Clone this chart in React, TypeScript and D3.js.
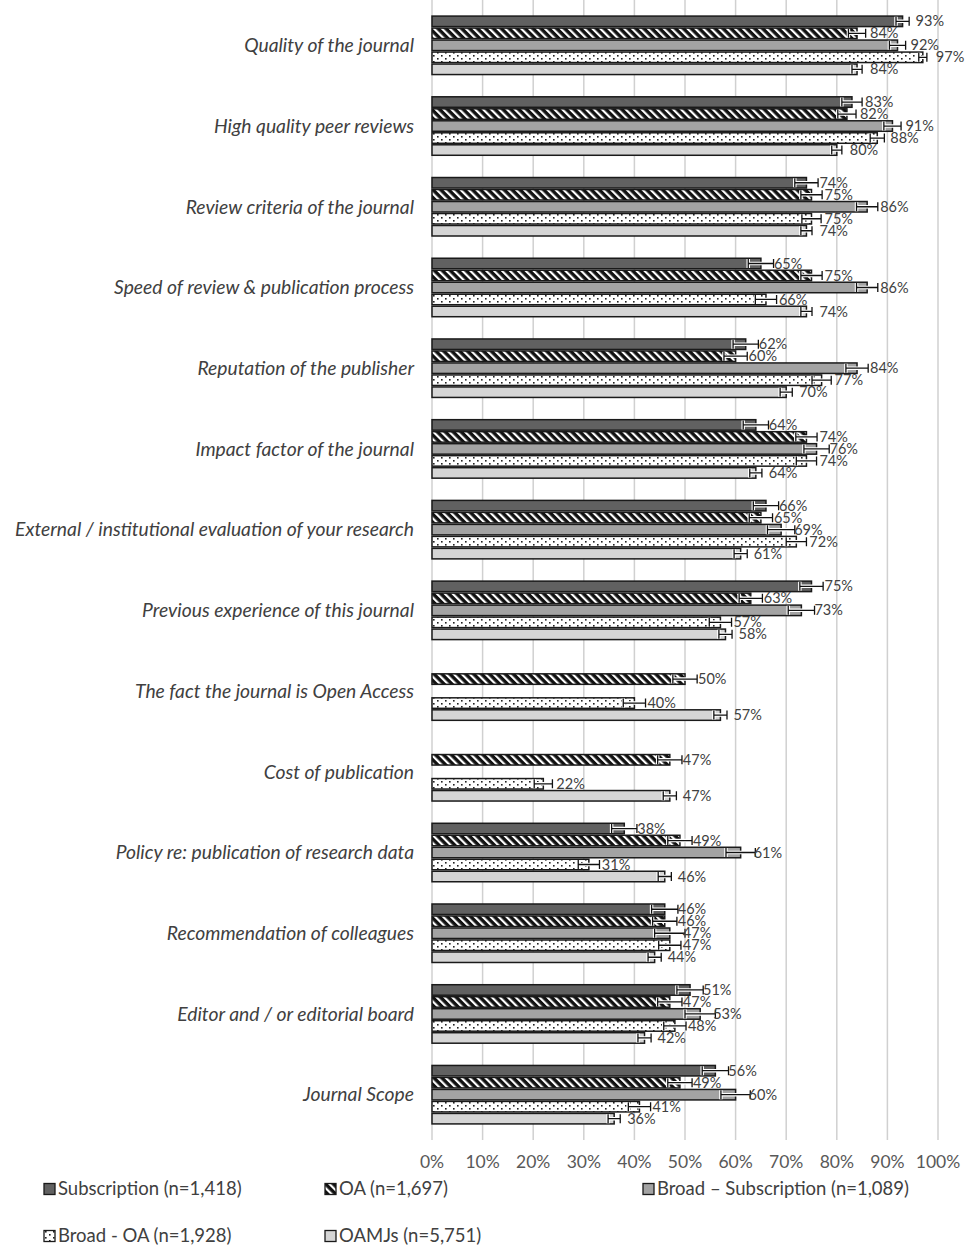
import React, { useEffect, useRef } from 'react';
import * as d3 from 'd3';

const categories = [
  'Quality of the journal',
  'High quality peer reviews',
  'Review criteria of the journal',
  'Speed of review & publication process',
  'Reputation of the publisher',
  'Impact factor of the journal',
  'External / institutional evaluation of your research',
  'Previous experience of this journal',
  'The fact the journal is Open Access',
  'Cost of publication',
  'Policy re: publication of research data',
  'Recommendation of colleagues',
  'Editor and / or editorial board',
  'Journal Scope',
];

const seriesNames = [
  'Subscription (n=1,418)',
  'OA (n=1,697)',
  'Broad – Subscription (n=1,089)',
  'Broad - OA (n=1,928)',
  'OAMJs (n=5,751)',
];

// percentages, null = not asked
const subscription = [93, 83, 74, 65, 62, 64, 66, 75, null, null, 38, 46, 51, 56];
const oa = [84, 82, 75, 75, 60, 74, 65, 63, 50, 47, 49, 46, 47, 49];
const broadSub = [92, 91, 86, 86, 84, 76, 69, 73, null, null, 61, 47, 53, 60];
const broadOA = [97, 88, 75, 66, 77, 74, 72, 57, 40, 22, 31, 47, 48, 41];
const oamjs = [84, 80, 74, 74, 70, 64, 61, 58, 57, 47, 46, 44, 42, 36];

// half-widths of the error bars, in % points
const subscriptionErr = [1.3, 2.0, 2.3, 2.5, 2.5, 2.5, 2.5, 2.3, null, null, 2.5, 2.6, 2.6, 2.6];
const oaErr = [1.7, 1.8, 2.1, 2.1, 2.3, 2.1, 2.3, 2.3, 2.4, 2.4, 2.4, 2.4, 2.4, 2.4];
const broadSubErr = [1.6, 1.7, 2.1, 2.1, 2.2, 2.5, 2.7, 2.6, null, null, 2.9, 3.0, 3.0, 2.9];
const broadOAErr = [0.8, 1.4, 1.9, 2.1, 1.9, 2.0, 2.0, 2.2, 2.2, 1.8, 2.1, 2.2, 2.2, 2.2];
const oamjsErr = [1.0, 1.0, 1.1, 1.1, 1.2, 1.2, 1.3, 1.3, 1.3, 1.3, 1.3, 1.3, 1.3, 1.2];

const xTicks = [0, 10, 20, 30, 40, 50, 60, 70, 80, 90, 100];

const series = [subscription, oa, broadSub, broadOA, oamjs];
const errors = [subscriptionErr, oaErr, broadSubErr, broadOAErr, oamjsErr];
const fills = ['#616161', 'url(#hatch)', '#a3a3a3', 'url(#dots)', '#d5d5d5'];

const FONT = 'Lato, "Open Sans", sans-serif';

export default function App() {
  const ref = useRef<SVGSVGElement | null>(null);

  useEffect(() => {
    document.body.style.margin = '0';
    const width = 965, height = 1247;
    const margin = { top: 5, left: 432, right: 27, bottom: 112 };
    const svg = d3.select(ref.current);
    svg.selectAll('*').remove();
    svg.attr('width', width).attr('height', height).style('background', '#fff');

    const defs = svg.append('defs');
    const hatch = defs.append('pattern').attr('id', 'hatch')
      .attr('patternUnits', 'userSpaceOnUse').attr('width', 5.6).attr('height', 5.6)
      .attr('patternTransform', 'rotate(-45)');
    hatch.append('rect').attr('width', 5.6).attr('height', 5.6).attr('fill', '#111');
    hatch.append('rect').attr('width', 2.2).attr('height', 5.6).attr('fill', '#fff');

    const dots = defs.append('pattern').attr('id', 'dots')
      .attr('patternUnits', 'userSpaceOnUse').attr('width', 8).attr('height', 6);
    dots.append('rect').attr('width', 8).attr('height', 6).attr('fill', '#fff');
    dots.append('rect').attr('x', 1).attr('y', 1).attr('width', 1.6).attr('height', 1.6).attr('fill', '#222');
    dots.append('rect').attr('x', 5).attr('y', 4).attr('width', 1.6).attr('height', 1.6).attr('fill', '#222');

    const x = d3.scaleLinear().domain([0, 100]).range([margin.left, width - margin.right]);
    const y = d3.scaleBand<string>().domain(categories)
      .range([margin.top, height - margin.bottom])
      .paddingInner(0.257).paddingOuter(0.128);
    const ySub = d3.scaleBand<number>().domain(d3.range(series.length))
      .range([0, y.bandwidth()]);

    // gridlines
    svg.append('g').selectAll('line').data(xTicks).join('line')
      .attr('x1', d => x(d)).attr('x2', d => x(d))
      .attr('y1', 0).attr('y2', height - margin.bottom + 5)
      .attr('stroke', '#d0d0d0').attr('stroke-width', 1.5);

    // x tick labels
    svg.append('g').selectAll('text').data(xTicks).join('text')
      .attr('x', d => x(d)).attr('y', 1168)
      .attr('text-anchor', 'middle')
      .attr('font-family', FONT).attr('font-size', 17.5).attr('fill', '#595959')
      .text(d => `${d}%`);

    // category labels
    svg.append('g').selectAll('text').data(categories).join('text')
      .attr('x', 414).attr('y', d => (y(d) ?? 0) + y.bandwidth() / 2)
      .attr('dy', '0.35em').attr('text-anchor', 'end')
      .attr('font-family', FONT).attr('font-style', 'italic')
      .attr('font-size', 19.3).attr('fill', '#404040')
      .text(d => d);

    type Cell = { cat: string; s: number; v: number; e: number };
    const cells: Cell[] = [];
    categories.forEach((cat, i) => {
      series.forEach((vals, s) => {
        const v = vals[i];
        if (v != null) cells.push({ cat, s, v, e: errors[s][i] ?? 0 });
      });
    });

    const by = (d: Cell) => (y(d.cat) ?? 0) + (ySub(d.s) ?? 0);
    const bh = ySub.bandwidth();

    svg.append('g').selectAll('rect').data(cells).join('rect')
      .attr('x', x(0)).attr('y', d => by(d) + 0.75)
      .attr('width', d => x(d.v) - x(0)).attr('height', bh - 1.5)
      .attr('fill', d => fills[d.s])
      .attr('stroke', '#1a1a1a').attr('stroke-width', 1.5);

    // error bars
    const eg = svg.append('g').selectAll('g').data(cells).join('g');
    const errPath = (d: Cell) => {
      const cy = by(d) + bh / 2;
      const x0 = x(d.v - d.e), x1 = x(d.v + d.e);
      return `M${x0},${cy - 4.5}V${cy + 4.5}M${x0},${cy}H${x1}M${x1},${cy - 4.5}V${cy + 4.5}`;
    };
    eg.append('path').attr('d', errPath).attr('fill', 'none')
      .attr('stroke', '#fff').attr('stroke-width', 3.5);
    eg.append('path').attr('d', errPath).attr('fill', 'none')
      .attr('stroke', '#111').attr('stroke-width', 1.3);

    // value labels
    svg.append('g').selectAll('text').data(cells).join('text')
      .attr('x', d => x(d.v) + 13).attr('y', d => by(d) + bh / 2)
      .attr('dy', '0.35em')
      .attr('font-family', FONT).attr('font-size', 14.5).attr('fill', '#404040')
      .text(d => `${d.v}%`);

    // legend
    const legendPos = [
      { x: 44, y: 1189 }, { x: 325, y: 1189 }, { x: 643, y: 1189 },
      { x: 44, y: 1236 }, { x: 325, y: 1236 },
    ];
    const lg = svg.append('g').selectAll('g').data(seriesNames).join('g')
      .attr('transform', (_, i) => `translate(${legendPos[i].x},${legendPos[i].y})`);
    lg.append('rect').attr('x', 0).attr('y', -5.5).attr('width', 11).attr('height', 11)
      .attr('fill', (_, i) => fills[i]).attr('stroke', '#1a1a1a').attr('stroke-width', 1.3);
    lg.append('text').attr('x', 14).attr('dy', '0.35em')
      .attr('font-family', FONT).attr('font-size', 18.5).attr('fill', '#404040')
      .text(d => d);
  }, []);

  return <svg ref={ref} style={{ display: 'block' }} />;
}
